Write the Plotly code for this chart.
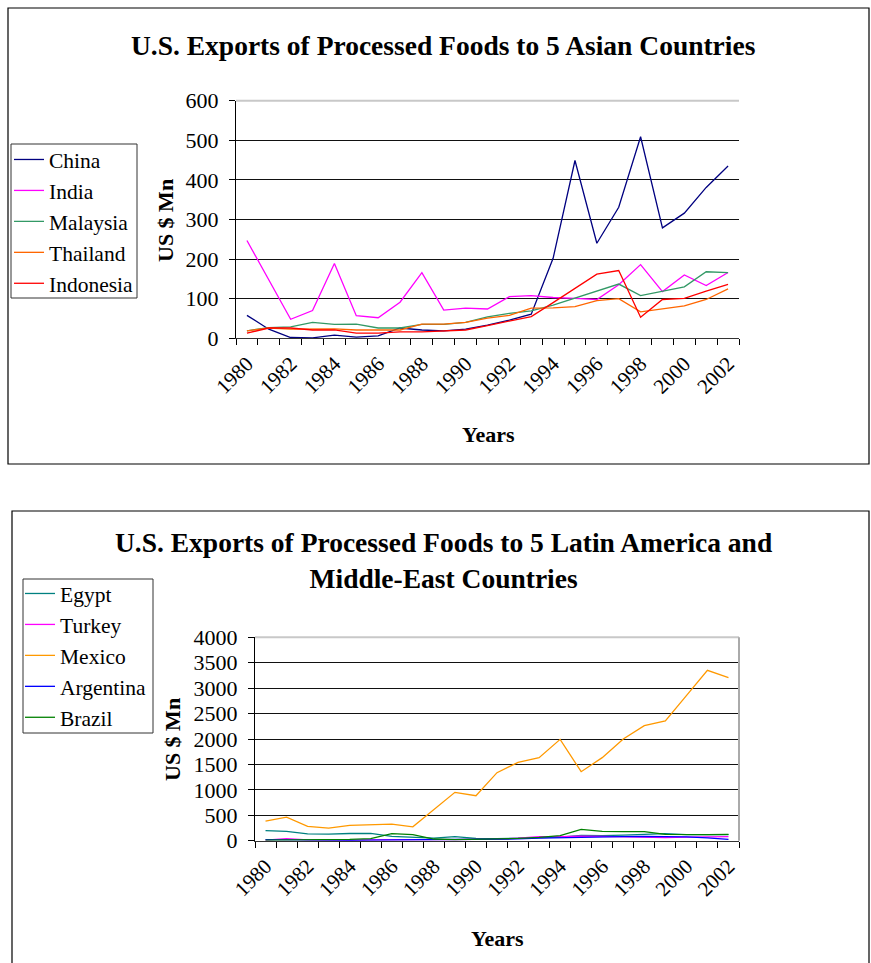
import plotly.graph_objects as go

W, H = 871, 963

years = list(range(1980, 2003))
tick_years = [y for y in years if y % 2 == 0]
tick_labels = [str(y) for y in tick_years]

# --- Asian countries (US $ Mn) ---
asia_names = ["China", "India", "Malaysia", "Thailand", "Indonesia"]
china = [58, 23, 2, 1, 8, 3, 6, 26, 21, 19, 23, 33, 46, 61, 202, 449, 240, 331, 509, 279, 316, 381, 435]
india = [247, 147, 48, 70, 189, 57, 52, 91, 166, 71, 76, 74, 105, 108, 103, 101, 98, 135, 186, 118, 160, 133, 166]
malaysia = [19, 27, 29, 40, 35, 36, 26, 26, 35, 35, 40, 54, 63, 69, 84, 101, 119, 137, 108, 119, 130, 168, 166]
thailand = [19, 26, 23, 24, 24, 21, 21, 21, 36, 36, 40, 51, 58, 76, 77, 80, 95, 100, 67, 74, 82, 98, 125]
indonesia = [13, 26, 26, 21, 21, 13, 13, 16, 16, 19, 21, 32, 43, 55, 90, 126, 162, 171, 53, 98, 101, 119, 136]

# --- Latin America & Middle-East (US $ Mn) ---
latam_names = ["Egypt", "Turkey", "Mexico", "Argentina", "Brazil"]
egypt = [200, 184, 135, 128, 142, 142, 85, 72, 52, 79, 46, 40, 46, 59, 72, 105, 98, 110, 118, 138, 118, 112, 118]
turkey = [10, 40, 15, 10, 12, 15, 20, 25, 20, 20, 25, 30, 50, 80, 80, 90, 85, 80, 75, 60, 70, 75, 80]
mexico = [385, 462, 282, 249, 302, 308, 325, 272, 603, 951, 885, 1338, 1541, 1633, 1993, 1357, 1633, 2000, 2262, 2354, 2852, 3351, 3206]
argentina = [20, 15, 10, 8, 8, 10, 12, 15, 15, 15, 18, 25, 35, 50, 60, 70, 75, 80, 85, 85, 75, 55, 25]
brazil = [13, 13, 13, 13, 26, 39, 138, 118, 33, 20, 25, 33, 46, 66, 98, 223, 184, 177, 177, 125, 118, 118, 125]

asia_series = [china, india, malaysia, thailand, indonesia]
asia_colors = ["#000080", "#FF00FF", "#339966", "#FF6600", "#FF0000"]
latam_series = [egypt, turkey, mexico, argentina, brazil]
latam_colors = ["#008080", "#FF00FF", "#FF9900", "#0000FF", "#008000"]

FONT = "Times New Roman, Liberation Serif, serif"

def px(x):
    return x / W

def py(y):
    return 1 - y / H

fig = go.Figure()
for name, vals, col in zip(asia_names, asia_series, asia_colors):
    fig.add_trace(go.Scatter(x=years, y=vals, name=name, mode="lines",
                             line=dict(color=col, width=1.3),
                             xaxis="x", yaxis="y", legend="legend"))
for name, vals, col in zip(latam_names, latam_series, latam_colors):
    fig.add_trace(go.Scatter(x=years, y=vals, name=name, mode="lines",
                             line=dict(color=col, width=1.3),
                             xaxis="x2", yaxis="y2", legend="legend2"))

bounds = [1979.5 + i for i in range(24)]

def xaxis(dom, anchor):
    return dict(domain=dom, anchor=anchor, range=[1979.5, 2002.5],
                tickmode="array", tickvals=tick_years, ticktext=tick_labels,
                tickangle=-45, ticks="", showgrid=False, zeroline=False,
                showline=True, linecolor="#333333", linewidth=1,
                automargin=False, ticklabelstandoff=4,
                tickfont=dict(family=FONT, size=21, color="black"),
                minor=dict(tickmode="array", tickvals=bounds, ticks="outside",
                           ticklen=6, tickcolor="black", showgrid=False))

def yaxis(dom, anchor, rng, dt):
    return dict(domain=dom, anchor=anchor, range=rng, dtick=dt, tick0=0,
                ticks="outside", ticklen=6, tickcolor="black",
                showgrid=True, gridcolor="#111111", gridwidth=1,
                zeroline=False, showline=True, linecolor="black", linewidth=1,
                automargin=False, ticklabelstandoff=6,
                tickfont=dict(family=FONT, size=22, color="black"))

legend_style = dict(xanchor="left", yanchor="top",
                    borderwidth=0, bgcolor="rgba(0,0,0,0)",
                    font=dict(family=FONT, size=21.5, color="black"),
                    tracegroupgap=0, itemwidth=30)

fig.update_layout(
    width=W, height=H, margin=dict(l=0, r=0, t=0, b=0, autoexpand=False),
    paper_bgcolor="white", plot_bgcolor="white",
    xaxis=xaxis([px(236), px(739)], "y"),
    yaxis=yaxis([py(338.3), py(100.7)], "x", [0, 600], 100),
    xaxis2=xaxis([px(255), px(739)], "y2"),
    yaxis2=yaxis([py(840.7), py(637.3)], "x2", [0, 4000], 500),
    legend=dict(x=px(9), y=py(139), **legend_style),
    legend2=dict(x=px(20), y=py(573), **legend_style),
    showlegend=True,
)

shapes = [
    # outer chart boxes
    dict(type="rect", xref="paper", yref="paper", x0=px(8), x1=px(869), y0=py(464), y1=py(8),
         line=dict(color="black", width=1.2), fillcolor="rgba(0,0,0,0)", layer="below"),
    dict(type="rect", xref="paper", yref="paper", x0=px(12), x1=px(869), y0=py(975), y1=py(511),
         line=dict(color="black", width=1.2), fillcolor="rgba(0,0,0,0)", layer="below"),
    # legend frames
    dict(type="rect", xref="paper", yref="paper", x0=px(11), x1=px(137), y0=py(298), y1=py(144),
         line=dict(color="#333333", width=1), fillcolor="rgba(0,0,0,0)"),
    dict(type="rect", xref="paper", yref="paper", x0=px(23), x1=px(153), y0=py(733), y1=py(579),
         line=dict(color="#333333", width=1), fillcolor="rgba(0,0,0,0)"),
    # gray plot-area frame lines
    dict(type="line", xref="x domain", yref="y domain", x0=0, x1=1, y0=1, y1=1,
         line=dict(color="#C8C8C8", width=2)),
    dict(type="line", xref="x2 domain", yref="y2 domain", x0=0, x1=1, y0=1, y1=1,
         line=dict(color="#C8C8C8", width=2)),
    dict(type="line", xref="x2 domain", yref="y2 domain", x0=1, x1=1, y0=0, y1=1,
         line=dict(color="#AAAAAA", width=2)),
]
fig.update_layout(shapes=shapes)

ann = []
def text(x, y, s, size, angle=0):
    ann.append(dict(x=px(x), y=py(y), xref="paper", yref="paper", text=s, showarrow=False,
                    textangle=angle, xanchor="center", yanchor="middle",
                    font=dict(family=FONT, size=size, color="black")))

text(443, 46, "<b>U.S. Exports of Processed Foods to 5 Asian Countries</b>", 27.5)
text(443, 560, "<b>U.S. Exports of Processed Foods to 5 Latin America and<br>Middle-East Countries</b>", 27.5)
text(165, 221, "<b>US $ Mn</b>", 22, angle=-90)
text(172, 740, "<b>US $ Mn</b>", 22, angle=-90)
text(488, 434, "<b>Years</b>", 22)
text(497, 938, "<b>Years</b>", 22)
fig.update_layout(annotations=ann)

fig.write_html("out.html", config={"displayModeBar": False},
               post_script="document.body.style.margin='0';document.body.style.overflow='hidden';")
